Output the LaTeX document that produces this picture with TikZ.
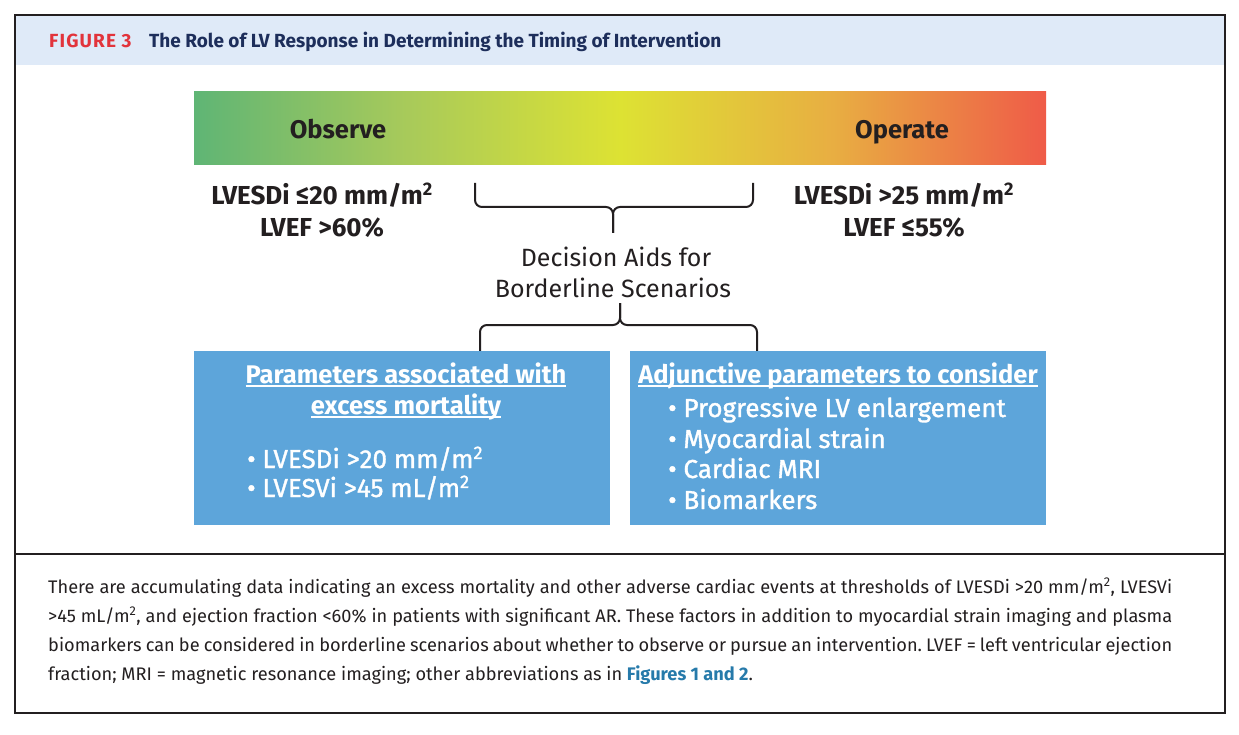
\documentclass[tikz,border=0pt]{standalone}
\usepackage{fontspec}
\setmainfont{Fira Sans}
\newfontfamily\semib[FakeBold=1.3]{Fira Sans}
\definecolor{hdrbg}{RGB}{223,234,248}
\definecolor{figred}{RGB}{226,51,59}
\definecolor{navy}{RGB}{29,46,91}
\definecolor{ink}{RGB}{35,31,32}
\definecolor{boxblue}{RGB}{93,165,218}
\definecolor{linkblue}{RGB}{38,122,170}
\definecolor{cg}{RGB}{95,181,117}
\definecolor{cgy}{RGB}{168,202,90}
\definecolor{cy}{RGB}{221,226,51}
\definecolor{co}{RGB}{232,174,66}
\definecolor{cr}{RGB}{239,91,72}
\pgfdeclarehorizontalshading{lvbar}{100bp}{color(0bp)=(cg); color(25bp)=(cg); color(37.5bp)=(cgy); color(50bp)=(cy); color(62.5bp)=(co); color(75bp)=(cr); color(100bp)=(cr)}
\newcommand\ulx[1]{\setbox0\hbox{#1}\rlap{\rule[-4pt]{\wd0}{1.7pt}}\box0}
\tikzset{
  lbl/.style={inner sep=0pt, text=ink},
  bigbold/.style={lbl, anchor=base, font=\bfseries\fontsize{25.5}{30}\selectfont},
  thr/.style={lbl, anchor=base, font=\bfseries\fontsize{26}{30}\selectfont},
  aid/.style={lbl, anchor=base, font=\fontsize{25}{30}\selectfont},
  boxst/.style={fill=boxblue, draw=none, inner sep=0pt, minimum width=416pt, minimum height=174pt},
  boxhead/.style={inner sep=0pt, anchor=base, text=white, font=\bfseries\fontsize{25.5}{30}\selectfont},
  boxitem/.style={inner sep=0pt, anchor=base west, text=white, font=\semib\fontsize{26}{30}\selectfont},
  bracest/.style={draw=ink, line width=2pt, rounded corners=7pt}
}
\begin{document}
\begin{tikzpicture}[x=1pt,y=-1pt]
\useasboundingbox (0,0) rectangle (1239,735);
\fill[white] (0,0) rectangle (1239,735);
% header band and frame
\fill[hdrbg] (15,15) rectangle (1225,65);
\draw[line width=1.5pt, ink] (15,15) rectangle (1225,713);
\draw[line width=1.5pt, ink] (15,554) -- (1225,554);
\node[inner sep=0pt, anchor=base west, text=figred, font=\bfseries\fontsize{19}{22}\selectfont\addfontfeature{LetterSpace=6}] (fig) at (49,48) {FIGURE 3};
\node[inner sep=0pt, anchor=base west, text=navy, font=\bfseries\fontsize{19}{22}\selectfont] (ttl) at (149,48) {The Role of LV Response in Determining the Timing of Intervention};
% gradient bar
\node[shade, shading=lvbar, inner sep=0pt, minimum width=852pt, minimum height=73pt] (bar) at (620,128.5) {};
\node[bigbold] (obs) at (338,139) {Observe};
\node[bigbold] (opr) at (902,139) {Operate};
% thresholds
\node[thr] (lt1) at (322,205) {LVESDi ≤20 mm/m\textsuperscript{2}};
\node[thr] (lt2) at (322,237) {LVEF >60\%};
\node[thr] (rt1) at (904,205) {LVESDi >25 mm/m\textsuperscript{2}};
\node[thr] (rt2) at (904,237) {LVEF ≤55\%};
% top brace
\coordinate (b1l) at (475,183);
\coordinate (b1r) at (753,183);
\coordinate (b1m) at (613,207);
\coordinate (b1t) at (613,233);
\draw[bracest] (b1l) |- (b1m) -- (b1t);
\draw[bracest] (b1r) |- (b1m) -- (b1t);
% decision aids
\node[aid] (da1) at (616,267) {Decision Aids for};
\node[aid] (da2) at (613,298) {Borderline Scenarios};
% bottom brace
\coordinate (b2l) at (480,352);
\coordinate (b2r) at (757,352);
\coordinate (b2m) at (620,325);
\coordinate (b2t) at (620,303);
\draw[bracest] (b2l) |- (b2m) -- (b2t);
\draw[bracest] (b2r) |- (b2m) -- (b2t);
% boxes
\node[boxst] (lbox) at (402,438) {};
\node[boxst] (rbox) at (838,438) {};
\node[boxhead] (lh1) at (406,383) {\ulx{Parameters associated with}};
\node[boxhead] (lh2) at (406,414) {\ulx{excess mortality}};
\node[boxitem] (li1) at (247,468) {• LVESDi >20 mm/m\textsuperscript{2}};
\node[boxitem] (li2) at (247,497) {• LVESVi >45 mL/m\textsuperscript{2}};
\node[boxhead] (rh1) at (838,383) {\ulx{Adjunctive parameters to consider}};
\node[boxitem] (ri1) at (668,417) {• Progressive LV enlargement};
\node[boxitem] (ri2) at (668,448) {• Myocardial strain};
\node[boxitem] (ri3) at (668,478) {• Cardiac MRI};
\node[boxitem] (ri4) at (668,509) {• Biomarkers};
% caption
\node[inner sep=0pt, anchor=base west, text width=1124pt, align=justify, text=ink, font=\frenchspacing\fontsize{18.2}{29}\selectfont] (cap) at (48,593) {There are accumulating data indicating an excess mortality and other adverse cardiac events at thresholds of LVESDi >20 mm/m\textsuperscript{2}, LVESVi\linebreak >45 mL/m\textsuperscript{2}, and ejection fraction <60\% in patients with significant AR. These factors in addition to myocardial strain imaging and plasma\linebreak biomarkers can be considered in borderline scenarios about whether to observe or pursue an intervention. LVEF = left ventricular ejection\linebreak fraction; MRI = magnetic resonance imaging; other abbreviations as in {\bfseries\color{linkblue}Figures 1 and 2}.};
\end{tikzpicture}
\end{document}
